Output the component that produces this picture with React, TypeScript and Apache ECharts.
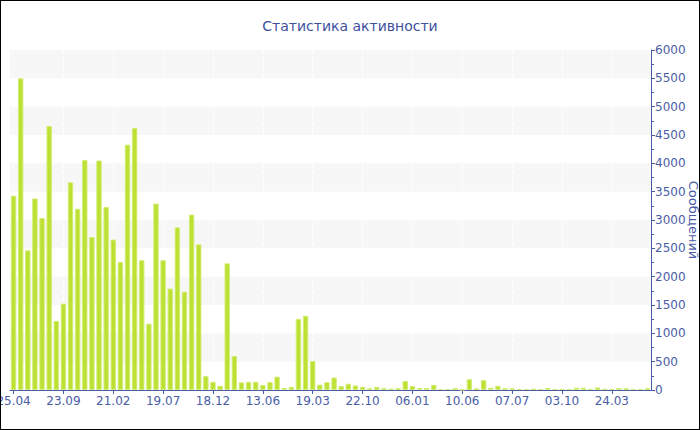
import React, { useEffect, useRef } from 'react';
import * as echarts from 'echarts';

const chartTitle = 'Статистика активности';
const yAxisName = 'Сообщений';
const tickLabels = ['25.04', '23.09', '21.02', '19.07', '18.12', '13.06', '19.03', '22.10', '06.01', '10.06', '07.07', '03.10', '24.03'];
const messages = [
  3430, 5500, 2465, 3380, 3035, 4660, 1220, 1525, 3665, 3200,
  4060, 2700, 4050, 3230, 2655, 2260, 4330, 4625, 2290, 1170,
  3290, 2290, 1790, 2870, 1735, 3095, 2570, 245, 145, 75,
  2235, 600, 135, 145, 145, 90, 140, 235, 35, 55,
  1255, 1310, 510, 95, 140, 220, 70, 110, 80, 55,
  30, 55, 35, 25, 35, 160, 70, 35, 35, 90,
  18, 18, 35, 6, 190, 30, 175, 40, 75, 35,
  30, 18, 18, 24, 18, 35, 18, 18, 18, 40,
  40, 18, 45, 24, 18, 35, 35, 18, 18, 35,
];
const categories = messages.map((_, i) => (i % 7 === 0 ? tickLabels[i / 7] : `#${i}`));

const BLUE = '#4a5ca6';
const FONT = 'DejaVu Sans';

export default function App() {
  const ref = useRef<HTMLDivElement>(null);
  useEffect(() => {
    if (!ref.current) return;
    const chart = echarts.init(ref.current, null, { renderer: 'svg' });
    chart.setOption({
      animation: false,
      backgroundColor: '#ffffff',
      textStyle: { fontFamily: FONT },
      title: {
        text: chartTitle,
        left: 'center',
        top: 13,
        textStyle: { color: '#3e4f9e', fontSize: 14, fontWeight: 'normal', fontFamily: FONT },
      },
      grid: { left: 9, right: 48, top: 49, bottom: 39, containLabel: false, outerBoundsMode: 'none' },
      xAxis: {
        type: 'category',
        data: categories,
        boundaryGap: true,
        axisLine: { lineStyle: { color: BLUE, width: 1 } },
        axisTick: { show: true, interval: 6, alignWithLabel: true, length: 4, lineStyle: { color: BLUE } },
        axisLabel: { interval: 6, color: BLUE, fontSize: 12, margin: 5, fontFamily: FONT },
        splitLine: {
          show: true,
          interval: 6,
          alignWithLabel: true,
          lineStyle: { color: '#ffffff', type: 'dashed', width: 1 },
        },
      },
      yAxis: {
        type: 'value',
        position: 'right',
        min: 0,
        max: 6000,
        interval: 500,
        name: yAxisName,
        nameLocation: 'middle',
        nameRotate: -90,
        nameGap: 36,
        nameMoveOverlap: false,
        nameTextStyle: { color: BLUE, fontSize: 13, fontFamily: FONT },
        axisLine: { show: true, lineStyle: { color: BLUE, width: 1 } },
        axisTick: { show: true, length: 4, lineStyle: { color: BLUE } },
        minorTick: { show: true, splitNumber: 2, length: 3, lineStyle: { color: BLUE } },
        axisLabel: { color: BLUE, fontSize: 12, margin: 4, fontFamily: FONT, formatter: (v: number) => String(v) },
        splitLine: { show: false },
        splitArea: { show: true, areaStyle: { color: ['rgba(255,255,255,0)', '#f7f7f7'] } },
      },
      series: [
        {
          type: 'bar',
          data: messages,
          barCategoryGap: '24%',
          itemStyle: { color: '#bde133', borderColor: '#d3ec75', borderWidth: 1 },
        },
      ],
    });
    return () => chart.dispose();
  }, []);
  return (
    <div
      style={{
        position: 'fixed',
        left: 0,
        top: 0,
        width: 700,
        height: 430,
        boxSizing: 'border-box',
        border: '1px solid #000',
        background: '#fff',
        overflow: 'hidden',
      }}
    >
      <div ref={ref} style={{ width: 698, height: 428 }} />
    </div>
  );
}
